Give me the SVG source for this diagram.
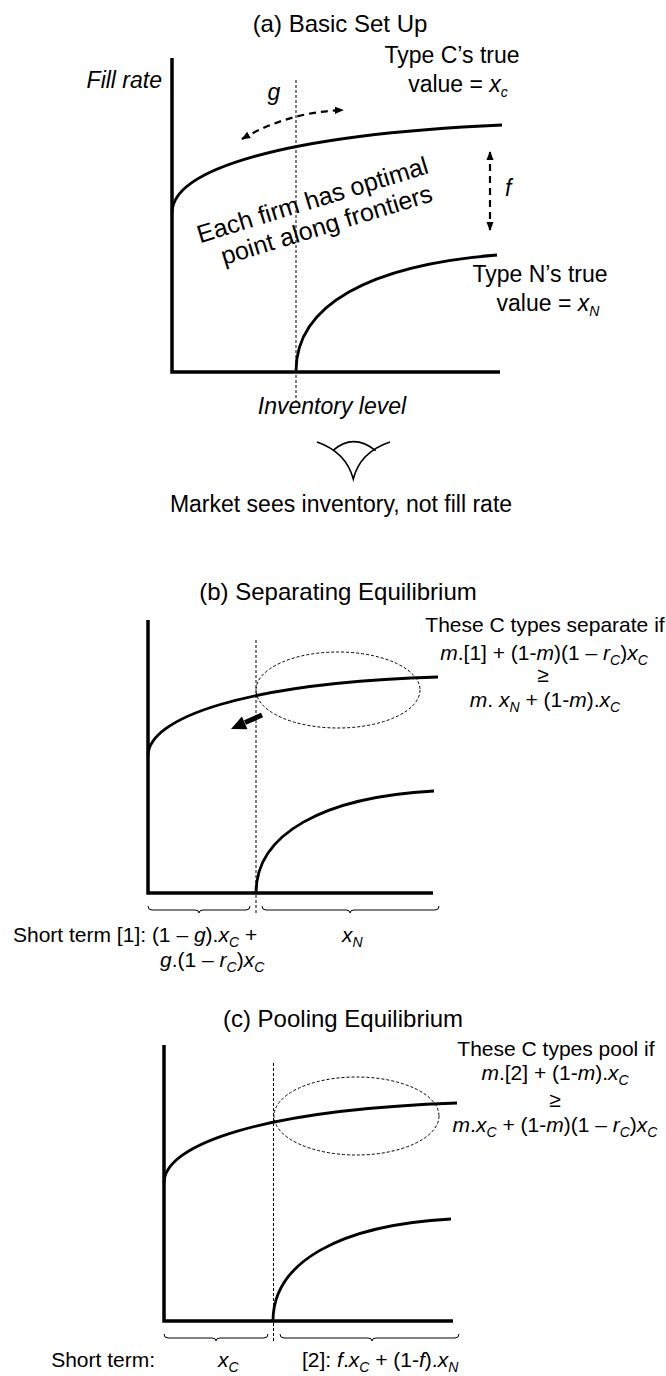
<svg xmlns="http://www.w3.org/2000/svg" width="666" height="1376" viewBox="0 0 666 1376">
<defs>
<style>
text{font-family:"Liberation Sans",Arial,Helvetica,sans-serif;fill:#000}
.t24{font-size:24px}
.t23{font-size:23px}
.t21{font-size:21px}
.t25{font-size:25px}
.it{font-style:italic}
.sub{font-size:14px;font-style:italic}
.axis{stroke:#000;stroke-width:3.5;fill:none}
.curve{stroke:#000;stroke-width:2.8;fill:none}
.guide{stroke:#000;stroke-width:1;stroke-dasharray:3 2;fill:none}
.oval{stroke:#000;stroke-width:1;stroke-dasharray:3 2;fill:none}
.brace{stroke:#000;stroke-width:1;fill:none}
.darrow{stroke:#000;stroke-width:2.2;stroke-dasharray:7 5;fill:none}
.eye{stroke:#000;stroke-width:1.6;fill:none}
</style>
<marker id="ah" viewBox="0 0 10 10" refX="9" refY="5" markerWidth="9" markerHeight="9" markerUnits="userSpaceOnUse" orient="auto-start-reverse">
<path d="M0,1 L10,5 L0,9 z" fill="#000" stroke="none"/>
</marker>
</defs>
<rect width="666" height="1376" fill="#fff"/>

<g id="panel-a">
<text id="title-a" class="t24" x="340" y="32" text-anchor="middle">(a) Basic Set Up</text>
<text class="t23 it" x="162" y="88" text-anchor="end">Fill rate</text>
<text class="t23" x="452" y="63" text-anchor="middle">Type C’s true</text>
<text class="t23" x="458" y="92" text-anchor="middle">value = <tspan class="it">x</tspan><tspan class="sub" dy="5">c</tspan></text>
<path class="axis" d="M172,58 V372 H500"/>
<path class="guide" d="M296,80 V402"/>
<path id="frontier-c-a" class="curve" d="M172,213 C172,170 280,135 502,125"/>
<path id="frontier-n-a" class="curve" d="M296,371 C296,305 370,265 497,255"/>
<text class="t23 it" x="274" y="100" text-anchor="middle">g</text>
<text class="t23 it" x="505" y="196">f</text>
<text class="t25" x="315" y="208" text-anchor="middle" transform="rotate(-17 315 208)">Each firm has optimal</text>
<text class="t25" x="329" y="233" text-anchor="middle" transform="rotate(-17 329 233)">point along frontiers</text>
<text class="t23" x="540" y="282" text-anchor="middle">Type N’s true</text>
<text class="t23" x="548" y="311" text-anchor="middle">value = <tspan class="it">x</tspan><tspan class="sub" dy="5">N</tspan></text>
<text class="t23 it" x="332" y="414" text-anchor="middle">Inventory level</text>
</g>

<g id="connectors">
<path class="darrow" d="M242,139 Q288,112 343,110" marker-start="url(#ah)" marker-end="url(#ah)"/>
<path class="darrow" d="M490,152 V230" marker-start="url(#ah)" marker-end="url(#ah)"/>
<line x1="262" y1="715" x2="245" y2="722.5" stroke="#000" stroke-width="5"/>
<polygon points="231,729 247.5,729.3 241.9,716.5" fill="#000"/>
</g>

<g id="eye">
<path class="eye" d="M317,442 Q346,452 353.3,479 Q360,452 390,442"/>
<path class="eye" d="M332.7,450.7 Q353.3,432.7 375.7,450.7"/>
</g>
<text id="market-note" class="t23" x="341" y="512" text-anchor="middle">Market sees inventory, not fill rate</text>

<g id="panel-b">
<text id="title-b" class="t24" x="338" y="600" text-anchor="middle">(b) Separating Equilibrium</text>
<path class="axis" d="M148,620 V893 H433"/>
<path class="guide" d="M256,640 V914"/>
<ellipse class="oval" cx="338" cy="690" rx="82" ry="38"/>
<path class="curve" d="M148,756 C148,718 244,683 438,677"/>
<path class="curve" d="M256,893 C256,834 323,797 434,791"/>
<g id="cond-b">
<text class="t21" x="545" y="632" text-anchor="middle">These C types separate if</text>
<text class="t21" x="544" y="660" text-anchor="middle"><tspan class="it">m</tspan>.[1] + (1-<tspan class="it">m</tspan>)(1 – <tspan class="it">r</tspan><tspan class="sub" dy="5">C</tspan><tspan dy="-5">)</tspan><tspan class="it">x</tspan><tspan class="sub" dy="5">C</tspan></text>
<text class="t21" x="543" y="682" text-anchor="middle">≥</text>
<text class="t21" x="545" y="707" text-anchor="middle"><tspan class="it">m</tspan>. <tspan class="it">x</tspan><tspan class="sub" dy="5">N</tspan><tspan dy="-5"> + (1-</tspan><tspan class="it">m</tspan>).<tspan class="it">x</tspan><tspan class="sub" dy="5">C</tspan></text>
</g>
<path class="brace" d="M148,906 Q148,910 152,910 L195,910 Q199,910 199,913 Q199,910 203,910 L246,910 Q250,910 250,906"/>
<path class="brace" d="M262,906 Q262,910 266,910 L346,910 Q350,910 350,913 Q350,910 354,910 L435,910 Q439,910 439,906"/>
<text class="t21" x="13" y="942">Short term [1]: (1 – <tspan class="it">g</tspan>).<tspan class="it">x</tspan><tspan class="sub" dy="5">C</tspan><tspan dy="-5"> +</tspan></text>
<text class="t21" x="160" y="967"><tspan class="it">g</tspan>.(1 – <tspan class="it">r</tspan><tspan class="sub" dy="5">C</tspan><tspan dy="-5">)</tspan><tspan class="it">x</tspan><tspan class="sub" dy="5">C</tspan></text>
<text class="t21" x="342" y="942"><tspan class="it">x</tspan><tspan class="sub" dy="5">N</tspan></text>
</g>

<g id="panel-c">
<text id="title-c" class="t24" x="343" y="1027" text-anchor="middle">(c) Pooling Equilibrium</text>
<path class="axis" d="M164,1045 V1321 H453"/>
<path class="guide" d="M273.5,1063 V1342"/>
<ellipse class="oval" cx="356.5" cy="1116" rx="82.5" ry="39"/>
<path class="curve" d="M164,1183 C164,1145 260,1110 457,1103"/>
<path class="curve" d="M273,1321 C273,1262 340,1225 451,1219"/>
<g id="cond-c">
<text class="t21" x="556" y="1056" text-anchor="middle">These C types pool if</text>
<text class="t21" x="555" y="1080" text-anchor="middle"><tspan class="it">m</tspan>.[2] + (1-<tspan class="it">m</tspan>).<tspan class="it">x</tspan><tspan class="sub" dy="5">C</tspan></text>
<text class="t21" x="555" y="1107" text-anchor="middle">≥</text>
<text class="t21" x="555" y="1132" text-anchor="middle"><tspan class="it">m</tspan>.<tspan class="it">x</tspan><tspan class="sub" dy="5">C</tspan><tspan dy="-5"> + (1-</tspan><tspan class="it">m</tspan>)(1 – <tspan class="it">r</tspan><tspan class="sub" dy="5">C</tspan><tspan dy="-5">)</tspan><tspan class="it">x</tspan><tspan class="sub" dy="5">C</tspan></text>
</g>
<path class="brace" d="M164,1334 Q164,1338 168,1338 L212,1338 Q216,1338 216,1341 Q216,1338 220,1338 L264,1338 Q268,1338 268,1334"/>
<path class="brace" d="M280,1334 Q280,1338 284,1338 L368,1338 Q372,1338 372,1341 Q372,1338 376,1338 L455,1338 Q459,1338 459,1334"/>
<text class="t21" x="155" y="1367" text-anchor="end">Short term:</text>
<text class="t21" x="218" y="1367"><tspan class="it">x</tspan><tspan class="sub" dy="5">C</tspan></text>
<text class="t21" x="302" y="1367">[2]: <tspan class="it">f</tspan>.<tspan class="it">x</tspan><tspan class="sub" dy="5">C</tspan><tspan dy="-5"> + (1-</tspan><tspan class="it">f</tspan>).<tspan class="it">x</tspan><tspan class="sub" dy="5">N</tspan></text>
</g>
</svg>
